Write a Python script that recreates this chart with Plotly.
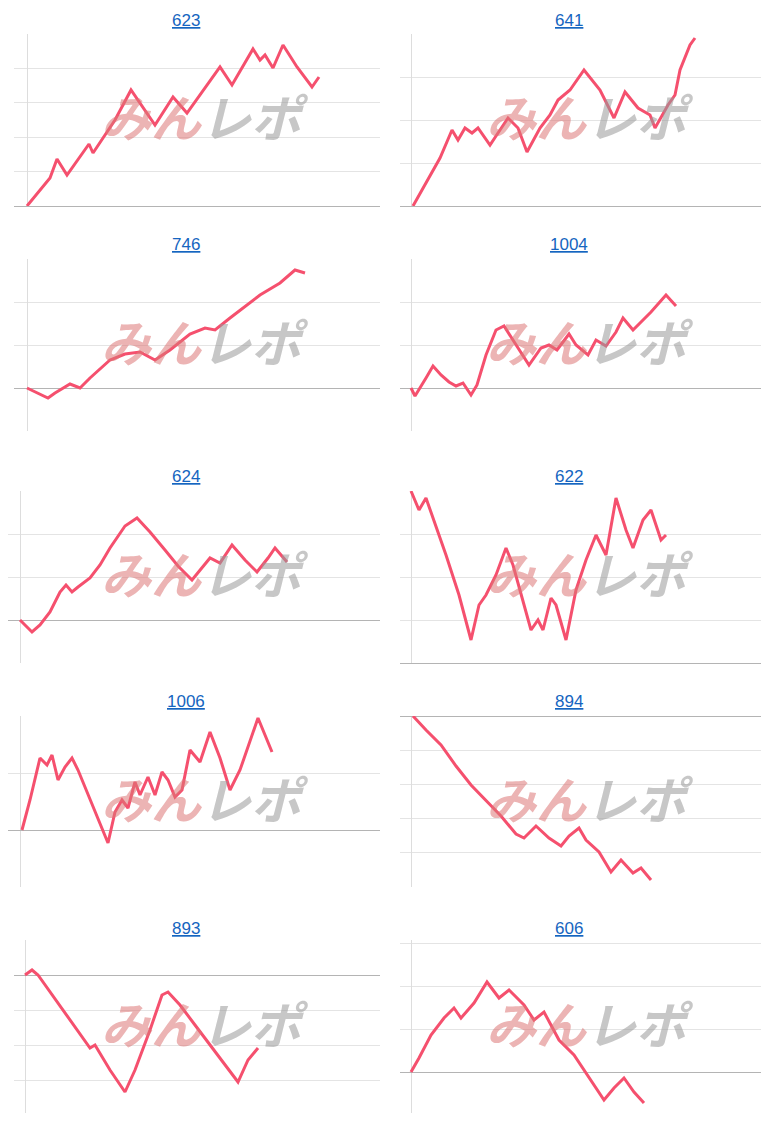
import plotly.graph_objects as go

titles = ["623", "641", "746", "1004", "624", "622", "1006", "894", "893", "606"]

days_623 = [0,23,30,40,62,66,88,104,128,146,160,193,205,226,233,238,246,256,270,285,292]
vals_623 = [0,28,47,31,62,53,86,116,81,109,93,139,121,157,146,151,138,161,139,119,129]
days_641 = [2,14,29,41,47,54,61,67,79,89,97,107,116,129,139,147,159,173,189,203,214,227,239,244,257,264,269,279,284]
vals_641 = [0,21,48,76,66,78,73,78,61,76,88,78,54,78,91,106,116,136,116,88,114,98,91,78,101,111,136,161,168]
days_746 = [0,21,28,43,53,63,83,98,113,128,143,163,178,188,203,233,253,268,278]
vals_746 = [0,-10,-5,4,0,10,28,34,36,28,38,54,60,58,70,93,105,118,115]
days_1004 = [0,4,15,22,30,38,45,52,60,66,75,85,93,105,118,130,138,146,158,165,177,185,195,205,212,222,240,255,265]
vals_1004 = [0,-8,10,22,13,6,2,5,-7,3,33,58,62,43,23,40,43,38,54,43,33,48,42,56,70,58,76,93,82]
days_624 = [0,12,20,30,40,46,52,58,70,80,90,105,117,130,145,158,172,180,190,200,212,225,237,248,255,267]
vals_624 = [0,-12,-5,8,28,35,28,33,42,55,72,94,102,88,70,54,40,50,62,57,75,60,48,62,72,58]
days_622 = [0,8,15,23,35,48,60,68,75,85,95,102,112,120,127,132,140,145,155,165,175,185,195,205,215,222,232,240,245,250,255]
vals_622 = [172,153,165,143,108,68,23,58,68,88,115,98,63,33,43,33,65,58,23,73,103,128,108,165,133,115,143,153,138,123,128]
days_1006 = [2,10,20,27,32,38,45,52,58,70,80,88,95,102,108,115,120,128,135,142,148,155,162,170,180,190,200,210,220,230,238,245,252]
vals_1006 = [0,30,72,65,75,50,63,72,60,30,5,-13,18,30,22,48,35,53,35,58,50,33,40,80,68,98,72,40,60,88,112,95,78]
days_894 = [2,15,30,45,60,75,90,105,113,125,138,150,158,168,175,188,200,210,222,230,240]
vals_894 = [0,-14,-29,-50,-69,-84,-100,-118,-122,-110,-122,-130,-120,-112,-124,-136,-156,-144,-157,-152,-164]
days_893 = [0,7,13,25,40,55,65,70,85,100,110,125,137,143,155,170,185,200,213,223,233]
vals_893 = [0,5,0,-17,-38,-60,-73,-70,-95,-117,-95,-55,-20,-17,-30,-50,-70,-90,-107,-85,-73]
days_606 = [0,8,20,33,43,50,63,76,88,98,113,123,133,148,163,178,193,203,213,223,233]
vals_606 = [0,14,37,54,64,54,69,90,74,82,67,52,60,32,17,-6,-28,-16,-6,-20,-31]

series = [(days_623, vals_623), (days_641, vals_641), (days_746, vals_746), (days_1004, vals_1004),
          (days_624, vals_624), (days_622, vals_622), (days_1006, vals_1006), (days_894, vals_894),
          (days_893, vals_893), (days_606, vals_606)]

OFF = 8
W, H = 769 - OFF, 1130 - OFF
cols = {0: (14, 27, 380), 1: (400, 411, 769)}
panels = [
    (0, (34, 206), (0, 172), 34.4),
    (1, (34, 206), (0, 172), 43),
    (0, (259, 431), (-43, 129), 43),
    (1, (259, 431), (-43, 129), 43),
    (0, (491, 663), (-43, 129), 43),
    (1, (491, 663), (0, 172), 43),
    (0, (716, 887), (-57, 114), 57),
    (1, (716, 887), (-171, 0), 34.2),
    (0, (940, 1113), (-138, 35), 35),
    (1, (940, 1113), (-41, 132), 43),
]
axis_shift = {4: 20, 6: 20, 8: 25}
left_shift = {4: 8, 6: 8}
title_y = [20, 20, 245, 245, 476, 476, 701, 701, 928, 928]

def px(v):
    return (v - OFF) / W

def py(v):
    return 1 - (v - OFF) / H

fig = go.Figure()
for i, ((d, v), (c, (t, b), yr, step)) in enumerate(zip(series, panels)):
    lp, ap, rp = cols[c]
    ap = axis_shift.get(i, ap)
    lp = left_shift.get(i, lp)
    n = i + 1
    xa = f"x{n}" if n > 1 else "x"
    ya = f"y{n}" if n > 1 else "y"
    fig.add_trace(go.Scatter(x=d, y=v, mode="lines", line=dict(color="#f5506e", width=3),
                             xaxis=xa, yaxis=ya, showlegend=False, hoverinfo="skip"))
    kx = "xaxis" + (str(n) if n > 1 else "")
    ky = "yaxis" + (str(n) if n > 1 else "")
    fig.layout[kx] = dict(domain=[max(0, px(lp)), min(1, px(rp))], range=[lp - ap, rp - ap], showgrid=False,
                          zeroline=True, zerolinecolor="#dddddd", zerolinewidth=1,
                          showticklabels=False, anchor=ya, fixedrange=True)
    fig.layout[ky] = dict(domain=[py(b), py(t)], range=list(yr), tick0=0, dtick=step,
                          showgrid=True, gridcolor="#e4e4e4", zeroline=True, zerolinecolor="#b4b4b4",
                          zerolinewidth=1, showticklabels=False, anchor=xa, fixedrange=True)
    cx = 186 if c == 0 else 569
    fig.add_annotation(x=px(cx), y=py(title_y[i]), xref="paper", yref="paper",
                       xanchor="center", yanchor="middle",
                       text=f"<u>{titles[i]}</u>", showarrow=False,
                       font=dict(family="Liberation Sans, Arial", size=17, color="#1565c0"))
    wx = 205 if c == 0 else 590
    wy = (t + b) / 2 - 5
    fig.add_annotation(x=px(wx), y=py(wy), xref="paper", yref="paper",
                       xanchor="center", yanchor="middle",
                       text="<b><i><span style='color:#dd7777'>みん</span><span style='color:#9a9a9a'>レポ</span></i></b>",
                       showarrow=False, opacity=0.55,
                       font=dict(family="Noto Sans CJK JP", size=50, color="#9a9a9a"))

fig.update_layout(width=W, height=H, margin=dict(l=0, r=0, t=0, b=0),
                  paper_bgcolor="white", plot_bgcolor="white")
fig.write_html("out.html")
